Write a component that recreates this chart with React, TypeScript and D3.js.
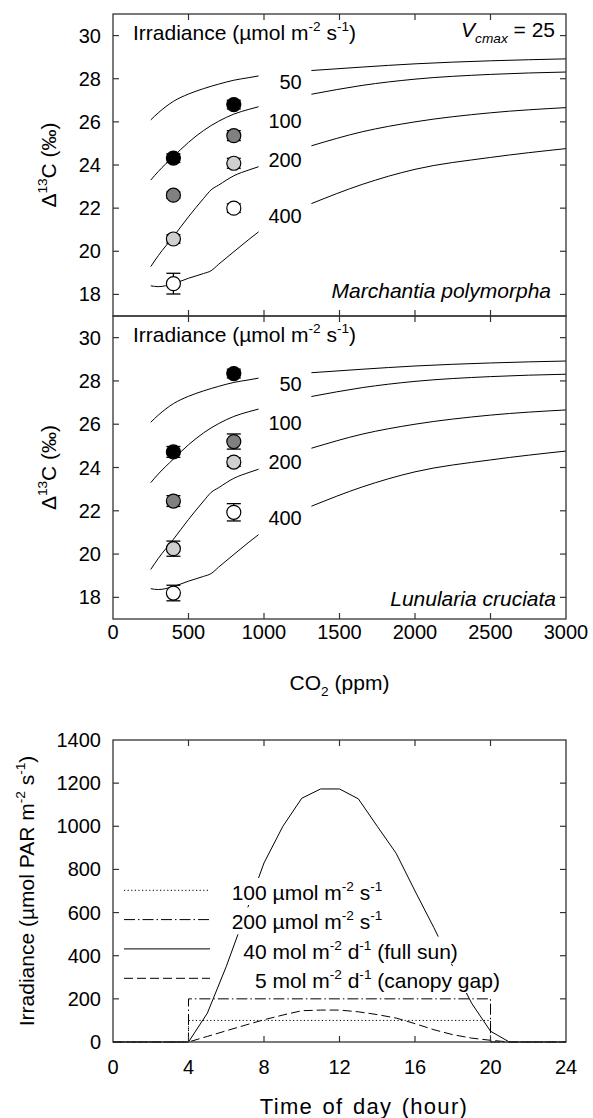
import React, { useEffect, useRef } from 'react';
import * as d3 from 'd3';

// ---------------- data ----------------
const co2Grid = [250, 300, 400, 500, 600, 650, 700, 800, 900, 964, 1314, 1650, 2000, 2500, 3000];
const model50 = [26.09, 26.42, 26.95, 27.29, 27.54, 27.65, 27.75, 27.93, 28.05, 28.13, 28.38, 28.54, 28.69, 28.83, 28.92];
const model100 = [23.3, 23.7, 24.39, 25.05, 25.6, 25.83, 26.03, 26.36, 26.58, 26.7, 27.28, 27.69, 27.98, 28.2, 28.31];
const model200 = [19.29, 19.8, 20.68, 21.6, 22.45, 22.85, 23.07, 23.5, 23.77, 23.92, 24.89, 25.54, 26.0, 26.42, 26.66];
const model400 = [18.4, 18.36, 18.5, 18.75, 18.97, 19.1, 19.4, 19.98, 20.55, 20.9, 22.21, 23.1, 23.8, 24.35, 24.76];
const irradianceLabels = ['50', '100', '200', '400'];
const labelDelta = [27.87, 26.05, 24.25, 21.65];

const measuredCO2 = [400, 800];
const marchantia50 = [24.32, 26.8];
const marchantia100 = [22.6, 25.36];
const marchantia200 = [20.57, 24.08];
const marchantia400 = [18.5, 22.0];
const marchantiaErr50 = [0.2, 0.2];
const marchantiaErr100 = [0.15, 0.23];
const marchantiaErr200 = [0.2, 0.23];
const marchantiaErr400 = [0.48, 0.2];

const lunularia50 = [24.72, 28.34];
const lunularia100 = [22.45, 25.2];
const lunularia200 = [20.25, 24.25];
const lunularia400 = [18.2, 21.93];
const lunulariaErr50 = [0.25, 0.2];
const lunulariaErr100 = [0.25, 0.35];
const lunulariaErr200 = [0.35, 0.2];
const lunulariaErr400 = [0.36, 0.4];

const deltaTicks = [18, 20, 22, 24, 26, 28, 30];
const co2Ticks = [0, 500, 1000, 1500, 2000, 2500, 3000];

const hours = [0, 1, 2, 3, 4, 5, 6, 7, 8, 9, 10, 11, 12, 13, 14, 15, 16, 17, 18, 19, 20, 21, 22, 23, 24];
const fullSun = [0, 0, 0, 0, 0, 134, 350, 590, 830, 1000, 1130, 1173, 1173, 1127, 1000, 875, 700, 530, 350, 180, 50, 0, 0, 0, 0];
const canopyGap = [0, 0, 0, 0, 0, 26, 52, 78, 103, 125, 145, 148, 148, 140, 127, 111, 85, 57, 34, 18, 8, 0, 0, 0, 0];
const stepHours = [0, 4, 4, 20, 20, 24];
const const100 = [0, 0, 100, 100, 0, 0];
const const200 = [0, 0, 200, 200, 0, 0];
const hourTicks = [0, 4, 8, 12, 16, 20, 24];
const irrTicks = [0, 200, 400, 600, 800, 1000, 1200, 1400];

// ---------------- styling / layout ----------------
const W = 593;
const H = 1118;
const FONT = '"Liberation Sans", Arial, Helvetica, sans-serif';
const FS = 20; // numbers
const FT = 21; // text labels
const X0 = 113;
const X1 = 566;
const TICK = 6;
const GAP_START = 964;
const GAP_END = 1314;
const FRAME = '#333';

type Part = { t: string; sup?: boolean; sub?: boolean; italic?: boolean };

function rich(sel: any, parts: Part[], fs: number) {
  let shift = 0;
  parts.forEach((p) => {
    const ts = sel.append('tspan').text(p.t);
    let target = 0;
    if (p.sup) target = -0.42 * fs;
    else if (p.sub) target = 0.3 * fs;
    const dy = target - shift;
    if (dy !== 0) ts.attr('dy', dy);
    shift = target;
    if (p.sup || p.sub) ts.attr('font-size', fs * 0.65);
    if (p.italic) ts.attr('font-style', 'italic');
  });
}

function addText(g: any, x: number, y: number, parts: Part[], anchor = 'start', fs = FT, transform?: string) {
  const t = g
    .append('text')
    .attr('x', x)
    .attr('y', y)
    .attr('text-anchor', anchor)
    .attr('font-size', fs)
    .attr('font-family', FONT)
    .style('white-space', 'pre')
    .attr('fill', '#000');
  if (transform) t.attr('transform', transform);
  rich(t, parts, fs);
  return t;
}

const fills = ['#000000', '#808080', '#d0d0d0', '#ffffff'];

function drawCO2Panel(
  svg: any,
  top: number,
  bottom: number,
  means: number[][],
  errs: number[][],
  species: string,
  speciesRight: number,
  speciesBase: number,
  opts: { vcmax?: boolean; xLabels?: boolean }
) {
  const x = d3.scaleLinear().domain([0, 3000]).range([X0, X1]);
  const y = d3.scaleLinear().domain([17, 31]).range([bottom, top]);
  const g = svg.append('g');

  const models = [model50, model100, model200, model400];
  const line = d3
    .line<[number, number]>()
    .x((d) => x(d[0]))
    .y((d) => y(d[1]))
    .curve(d3.curveMonotoneX);
  models.forEach((m) => {
    const pts: [number, number][] = co2Grid.map((c, i) => [c, m[i]]);
    const seg1 = pts.filter((p) => p[0] <= GAP_START);
    const seg2 = pts.filter((p) => p[0] >= GAP_END);
    [seg1, seg2].forEach((s) =>
      g.append('path').attr('d', line(s)).attr('fill', 'none').attr('stroke', '#000').attr('stroke-width', 1)
    );
  });

  irradianceLabels.forEach((lab, i) => {
    addText(g, x(1250), y(labelDelta[i]) + 7, [{ t: lab }], 'end', FS);
  });

  means.forEach((series, si) => {
    series.forEach((v, j) => {
      const cx = x(measuredCO2[j]);
      const e = errs[si][j];
      const yt = y(v + e);
      const yb = y(v - e);
      g.append('line').attr('x1', cx).attr('x2', cx).attr('y1', yt).attr('y2', yb).attr('stroke', '#000').attr('stroke-width', 1.3);
      [yt, yb].forEach((yy) =>
        g.append('line').attr('x1', cx - 7).attr('x2', cx + 7).attr('y1', yy).attr('y2', yy).attr('stroke', '#000').attr('stroke-width', 1.3)
      );
      g.append('circle')
        .attr('cx', cx)
        .attr('cy', y(v))
        .attr('r', 7)
        .attr('fill', fills[si])
        .attr('stroke', '#000')
        .attr('stroke-width', 1.2);
    });
  });

  addText(g, 133, top + 26, [{ t: 'Irradiance (\u00b5mol m' }, { t: '-2', sup: true }, { t: ' s' }, { t: '-1', sup: true }, { t: ')' }]);
  if (opts.vcmax) {
    addText(g, 555, top + 23, [{ t: 'V', italic: true }, { t: 'cmax', sub: true, italic: true }, { t: ' = 25' }], 'end');
  }
  const sp = addText(g, speciesRight, speciesBase, [{ t: species }], 'end', FT);
  sp.attr('font-style', 'italic');

  const cy = (top + bottom) / 2;
  addText(g, 0, 0, [{ t: '\u0394' }, { t: '13', sup: true }, { t: 'C (\u2030)' }], 'middle', FT, `translate(56,${cy}) rotate(-90)`);

  deltaTicks.forEach((t) => {
    const yy = y(t);
    g.append('line').attr('x1', X0).attr('x2', X0 + TICK).attr('y1', yy).attr('y2', yy).attr('stroke', FRAME).attr('stroke-width', 1.2);
    g.append('line').attr('x1', X1 - TICK).attr('x2', X1).attr('y1', yy).attr('y2', yy).attr('stroke', FRAME).attr('stroke-width', 1.2);
    addText(g, X0 - 12, yy + 7, [{ t: String(t) }], 'end', FS);
  });
  co2Ticks.forEach((t) => {
    const xx = x(t);
    if (t > 0 && t < 3000) {
      g.append('line').attr('x1', xx).attr('x2', xx).attr('y1', top).attr('y2', top + TICK).attr('stroke', FRAME).attr('stroke-width', 1.2);
      g.append('line').attr('x1', xx).attr('x2', xx).attr('y1', bottom - TICK).attr('y2', bottom).attr('stroke', FRAME).attr('stroke-width', 1.2);
    }
    if (opts.xLabels) addText(g, xx, bottom + 20, [{ t: String(t) }], 'middle', FS);
  });
  if (opts.xLabels) {
    addText(g, (X0 + X1) / 2, bottom + 71, [{ t: 'CO' }, { t: '2', sub: true }, { t: ' (ppm)' }], 'middle');
  }

  g.append('rect')
    .attr('x', X0)
    .attr('y', top)
    .attr('width', X1 - X0)
    .attr('height', bottom - top)
    .attr('fill', 'none')
    .attr('stroke', FRAME)
    .attr('stroke-width', 1.3);
}

function drawIrradiancePanel(svg: any) {
  const top = 740;
  const bottom = 1042;
  const x = d3.scaleLinear().domain([0, 24]).range([X0, X1]);
  const y = d3.scaleLinear().domain([0, 1400]).range([bottom, top]);
  const g = svg.append('g');
  const line = d3
    .line<[number, number]>()
    .x((d) => x(d[0]))
    .y((d) => y(d[1]));

  const series = [
    { h: stepHours, v: const100, dash: '1.2,2.4' },
    { h: stepHours, v: const200, dash: '11,3,1.5,3' },
    { h: hours, v: fullSun, dash: null },
    { h: hours, v: canopyGap, dash: '9,4' },
  ];
  series.forEach((s) => {
    const pts: [number, number][] = s.h.map((hh, i) => [hh, s.v[i]]);
    const p = g.append('path').attr('d', line(pts)).attr('fill', 'none').attr('stroke', '#000').attr('stroke-width', 1);
    if (s.dash) p.attr('stroke-dasharray', s.dash);
  });

  const legendParts: Part[][] = [
    [{ t: '100 \u00b5mol m' }, { t: '-2', sup: true }, { t: ' s' }, { t: '-1', sup: true }],
    [{ t: '200 \u00b5mol m' }, { t: '-2', sup: true }, { t: ' s' }, { t: '-1', sup: true }],
    [{ t: '40 mol m' }, { t: '-2', sup: true }, { t: ' d' }, { t: '-1', sup: true }, { t: ' (full sun)' }],
    [{ t: '5 mol m' }, { t: '-2', sup: true }, { t: ' d' }, { t: '-1', sup: true }, { t: ' (canopy gap)' }],
  ];
  const legendTextX = [231.7, 231.7, 243.3, 255];
  const legendBase = [900, 929.3, 958.6, 988];
  legendParts.forEach((parts, i) => {
    const bg = g.append('rect').attr('fill', '#fff');
    const t = addText(g, legendTextX[i], legendBase[i], parts);
    const bb = (t.node() as SVGTextElement).getBBox();
    bg.attr('x', bb.x - 2).attr('y', legendBase[i] - 22).attr('width', bb.width + 4).attr('height', 27);
    const ly = legendBase[i] - 9.7;
    const sample = g.append('line').attr('x1', 124).attr('x2', 210).attr('y1', ly).attr('y2', ly).attr('stroke', '#000').attr('stroke-width', 1);
    if (series[i].dash) sample.attr('stroke-dasharray', series[i].dash);
  });

  irrTicks.forEach((t) => {
    const yy = y(t);
    if (t > 0 && t < 1400) {
      g.append('line').attr('x1', X0).attr('x2', X0 + TICK).attr('y1', yy).attr('y2', yy).attr('stroke', FRAME).attr('stroke-width', 1.2);
      g.append('line').attr('x1', X1 - TICK).attr('x2', X1).attr('y1', yy).attr('y2', yy).attr('stroke', FRAME).attr('stroke-width', 1.2);
    }
    addText(g, X0 - 12, yy + 7, [{ t: String(t) }], 'end', FS);
  });
  hourTicks.forEach((t) => {
    const xx = x(t);
    if (t > 0 && t < 24) {
      g.append('line').attr('x1', xx).attr('x2', xx).attr('y1', top).attr('y2', top + TICK).attr('stroke', FRAME).attr('stroke-width', 1.2);
      g.append('line').attr('x1', xx).attr('x2', xx).attr('y1', bottom - TICK).attr('y2', bottom).attr('stroke', FRAME).attr('stroke-width', 1.2);
    }
    addText(g, xx, bottom + 32, [{ t: String(t) }], 'middle', FS);
  });
  addText(g, 364, bottom + 72, [{ t: 'Time of day (hour)' }], 'middle', 22)
    .attr('letter-spacing', 1.3)
    .attr('word-spacing', 2);
  addText(
    g,
    0,
    0,
    [{ t: 'Irradiance (\u00b5mol PAR m' }, { t: '-2', sup: true }, { t: ' s' }, { t: '-1', sup: true }, { t: ')' }],
    'middle',
    FT,
    `translate(34,${(top + bottom) / 2}) rotate(-90)`
  );

  g.append('rect')
    .attr('x', X0)
    .attr('y', top)
    .attr('width', X1 - X0)
    .attr('height', bottom - top)
    .attr('fill', 'none')
    .attr('stroke', FRAME)
    .attr('stroke-width', 1.3);
}

export default function App() {
  const ref = useRef<SVGSVGElement | null>(null);
  useEffect(() => {
    const svg = d3.select(ref.current);
    svg.selectAll('*').remove();
    svg.append('rect').attr('width', W).attr('height', H).attr('fill', '#fff');
    drawCO2Panel(
      svg,
      14,
      316,
      [marchantia50, marchantia100, marchantia200, marchantia400],
      [marchantiaErr50, marchantiaErr100, marchantiaErr200, marchantiaErr400],
      'Marchantia polymorpha',
      551,
      298,
      { vcmax: true }
    );
    drawCO2Panel(
      svg,
      316,
      619,
      [lunularia50, lunularia100, lunularia200, lunularia400],
      [lunulariaErr50, lunulariaErr100, lunulariaErr200, lunulariaErr400],
      'Lunularia cruciata',
      556,
      606,
      { xLabels: true }
    );
    drawIrradiancePanel(svg);
  }, []);
  return (
    <svg
      ref={ref}
      width={W}
      height={H}
      style={{ position: 'absolute', left: 0, top: 0, display: 'block' }}
      xmlns="http://www.w3.org/2000/svg"
    />
  );
}
